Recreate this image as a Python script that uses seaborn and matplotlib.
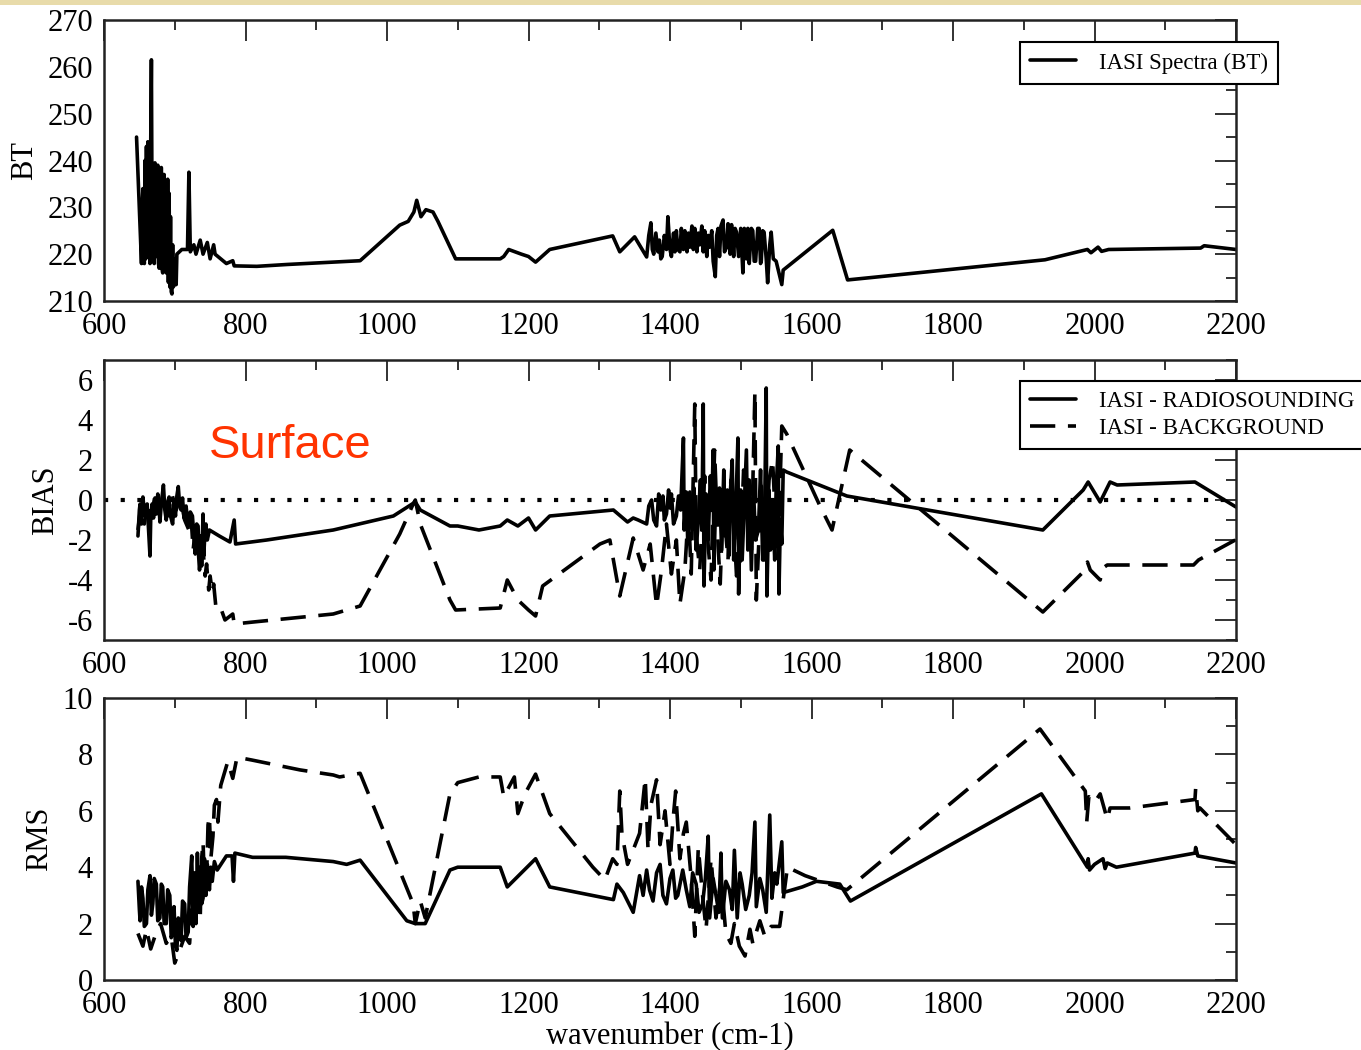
import matplotlib
matplotlib.use('Agg')
import matplotlib.pyplot as plt
import seaborn as sns
from matplotlib.ticker import MultipleLocator
from matplotlib.patches import Rectangle

# --- BT spectrum (top panel) ---
bt_wn = [646, 653, 654, 655, 656, 657, 658, 659, 660, 661,
         662, 663, 664, 665, 666, 667, 668, 669, 670, 671,
         672, 673, 674, 675, 676, 677, 678, 679, 680, 681,
         682, 683, 684, 685, 686, 687, 688, 689, 690, 691,
         692, 693, 694, 695, 696, 697, 698, 700, 701, 702,
         703, 710, 718, 720, 722, 727, 730, 736, 740, 746,
         750, 755, 757, 773, 782, 784, 816, 859, 962, 1018,
         1030, 1038, 1042, 1048, 1055, 1065, 1072, 1097, 1160, 1165,
         1172, 1190, 1200, 1210, 1230, 1273, 1319, 1329, 1350, 1367,
         1370, 1373, 1375, 1377, 1380, 1383, 1385, 1387, 1389, 1392,
         1395, 1397, 1400, 1402, 1405, 1407, 1409, 1411, 1414, 1416,
         1419, 1421, 1424, 1426, 1428, 1431, 1433, 1435, 1438, 1440,
         1442, 1445, 1447, 1449, 1452, 1454, 1456, 1459, 1461, 1464,
         1466, 1468, 1470, 1472, 1475, 1477, 1480, 1482, 1485, 1487,
         1490, 1492, 1494, 1497, 1500, 1503, 1505, 1508, 1510, 1512,
         1515, 1517, 1519, 1521, 1524, 1526, 1528, 1529, 1531, 1533,
         1536, 1538, 1541, 1543, 1546, 1550, 1554, 1558, 1560, 1630,
         1651, 1697, 1930, 1990, 1995, 2005, 2010, 2020, 2150, 2155,
         2200]
bt = [245, 218, 230, 234, 220, 218, 240, 219, 243, 221,
      244, 226, 236, 218, 243, 261.5, 225, 222, 238, 218,
      239.5, 221, 219.5, 238, 239, 218, 217, 238, 220, 238.5,
      217, 216, 237, 237, 217, 235, 216, 216, 236, 214,
      233, 213, 228, 212, 211.5, 222, 213, 214, 219, 213.5,
      220, 221, 221, 237.5, 220.5, 222, 220, 223, 220, 222.5,
      219, 222, 220, 218, 218.6, 217.5, 217.4, 217.8, 218.6, 226.2,
      227, 229, 231.5, 228, 229.5, 229, 227, 219, 219, 219.5,
      221, 220, 219.5, 218.3, 221, 222.4, 223.9, 220.5, 223.7, 219.4,
      224, 226.7, 221, 220, 224.5, 220.5, 223, 219, 219.5, 224,
      221, 228, 221, 219.5, 224.5, 220.5, 225, 221, 220.5, 225.5,
      221, 225, 220.5, 224.5, 221.5, 226, 221, 225.5, 220.5, 224.5,
      222, 226, 220.5, 225, 219.5, 224, 221.5, 225, 218.5, 215.2,
      224, 225.5, 219.5, 226, 227.3, 220.5, 221.5, 226.5, 220, 226.3,
      219.5, 225.5, 224.7, 219.5, 225.5, 216, 225.5, 219, 225.5, 218,
      225.5, 225, 218.5, 218.5, 225.5, 225.5, 218, 218.5, 225, 224.7,
      219, 213.9, 222, 224.7, 219, 218.5, 216, 213.5, 216.6, 225.1,
      214.5, 215.2, 218.8, 221, 220.3, 221.5, 220.6, 221, 221.3, 221.8,
      221]

# --- BIAS (middle panel) ---
bias_rs_wn = [648, 650, 651, 653, 655, 657, 659, 661, 663, 665,
              666, 668, 670, 672, 674, 676, 678, 679, 681, 684,
              686, 688, 690, 692, 694, 697, 699, 701, 703, 705,
              707, 709, 711, 713, 716, 718, 720, 722, 725, 727,
              729, 731, 733, 734, 736, 737, 738, 740, 741, 742,
              744, 746, 749, 763, 778, 784, 786, 830, 924, 1009,
              1040, 1047, 1089, 1100, 1130, 1160, 1170, 1185, 1200, 1210,
              1230, 1320, 1340, 1348, 1355, 1367, 1370, 1374, 1377, 1381,
              1384, 1387, 1390, 1392, 1395, 1398, 1400, 1402, 1405, 1409,
              1412, 1415, 1419, 1420, 1423, 1425, 1428, 1431, 1434, 1437,
              1440, 1443, 1445, 1447, 1448, 1451, 1454, 1457, 1459, 1461,
              1462, 1465, 1468, 1470, 1473, 1476, 1478, 1481, 1483, 1485,
              1488, 1490, 1493, 1496, 1497, 1500, 1502, 1505, 1508, 1510,
              1512, 1515, 1518, 1521, 1525, 1528, 1531, 1534, 1536, 1537,
              1540, 1542, 1545, 1548, 1550, 1553, 1554, 1556, 1558, 1560,
              1565, 1650, 1927, 1984, 1991, 2008, 2022, 2032, 2142, 2200]
bias_rs = [-1.8, -0.5, -0.2, -1.2, 0.15, -0.6, -0.85, -0.2, -1.5, -2.8,
           -1.0, -0.2, -0.9, 0.1, -0.7, 0.3, -0.4, -1.1, -0.2, 0.75,
           -0.5, -1.0, -0.1, 0.15, -0.8, -1.2, -0.1, -0.8, 0.2, 0.67,
           -0.3, -0.5, 0.1, -0.9, -0.3, -1.0, -1.3, -0.6, -0.8, -1.8,
           -2.7, -1.2, -1.3, -2.5, -3.0, -1.8, -3.3, -0.7, -2.8, -2.1,
           -1.2, -2.0, -1.5, -1.8, -2.1, -1.0, -2.2, -2.0, -1.5, -0.8,
           -0.1, -0.5, -1.3, -1.3, -1.5, -1.3, -1.0, -1.3, -0.9, -1.5,
           -0.8, -0.5, -1.1, -0.9, -1.0, -1.2, -0.3, 0.0, -1.0, -1.3,
           0.3, -0.5, 0.2, -1.0, -0.7, 0.5, -0.4, 0.3, -1.2, -0.8,
           0.2, -0.5, 3.1, -1.5, 0.4, -2.0, 0.4, -1.5, 0.6, -2.5,
           -1.0, 1.0, -1.5, 4.8, -4.3, 0.3, -2.0, 1.2, -0.5, 2.5,
           -3.5, 0.6, -1.0, 0.6, -2.5, 1.5, -1.8, 0.5, -2.8, 0.2,
           2.0, -3.0, -0.5, 3.1, -4.7, 0.5, -3.0, -0.2, 2.5, -2.5,
           1.0, -3.5, 0.5, -2.0, -1.5, 1.5, -3.0, 0.0, 5.6, -4.8,
           0.5, -2.5, 0.0, -3.0, 0.5, 2.7, -4.7, -1.0, -2.2, 1.5,
           1.4, 0.2, -1.5, 0.5, 0.9, -0.1, 0.9, 0.75, 0.9, -0.35]

bias_bg_wn = [648, 652, 657, 662, 667, 672, 678, 684, 690, 696,
              702, 708, 714, 720, 723, 726, 729, 732, 735, 738,
              740, 743, 745, 748, 750, 753, 755, 758, 762, 766,
              771, 782, 784, 811, 924, 962, 1018, 1037, 1040, 1047,
              1089, 1097, 1160, 1170, 1185, 1200, 1210, 1220, 1301, 1315,
              1329, 1348, 1362, 1372, 1381, 1388, 1395, 1402, 1409, 1414,
              1421, 1426, 1430, 1435, 1437, 1442, 1449, 1454, 1458, 1463,
              1468, 1471, 1475, 1482, 1486, 1489, 1494, 1499, 1504, 1510,
              1515, 1520, 1522, 1529, 1533, 1536, 1540, 1545, 1549, 1553,
              1558, 1565, 1612, 1629, 1654, 1927, 1984, 1990, 1994, 2008,
              2012, 2018, 2140, 2147, 2199]
bias_bg = [-1.5, -0.3, -1.2, 0.0, -0.8, 0.2, -0.6, 0.4, -0.8, 0.3,
           -0.5, 0.2, -1.0, -1.5, -0.8, -2.5, -1.5, -1.8, -3.5, -2.2,
           -2.5, -3.8, -3.2, -4.5, -3.8, -4.6, -4.2, -5.3, -5.2, -5.5,
           -6.0, -5.7, -6.2, -6.1, -5.7, -5.3, -1.7, -0.2, 0.0, -1.2,
           -5.0, -5.5, -5.4, -4.0, -5.0, -5.5, -5.8, -4.3, -2.2, -2.0,
           -4.8, -1.9, -3.5, -2.2, -5.3, -3.5, -1.2, -3.7, -2.0, -5.2,
           -3.5, -0.5, -3.7, 4.8, -1.7, -3.5, 1.2, -2.3, -4.0, 2.5,
           -2.3, -4.2, 0.0, -3.0, 1.0, -0.2, -3.8, -3.2, 1.5, 0.3,
           -2.5, 5.4, -5.0, 0.7, -3.0, -1.6, 1.0, 2.0, -1.0, -2.4,
           3.7, 3.3, -0.3, -1.5, 2.5, -5.6, -3.6, -3.1, -3.5, -4.0,
           -3.4, -3.25, -3.25, -3.0, -2.0]

# --- RMS (bottom panel) ---
rms_rs_wn = [648, 650, 651, 653, 655, 657, 660, 662, 665, 667,
             669, 671, 674, 676, 679, 681, 683, 685, 688, 690,
             693, 695, 697, 699, 701, 703, 705, 707, 709, 711,
             714, 716, 719, 721, 724, 726, 728, 730, 732, 734,
             736, 738, 740, 742, 744, 746, 749, 751, 753, 756,
             760, 773, 781, 783, 785, 810, 857, 924, 943, 962,
             1028, 1040, 1054, 1089, 1100, 1160, 1170, 1190, 1210, 1230,
             1320, 1325, 1334, 1348, 1357, 1362, 1367, 1371, 1376, 1381,
             1386, 1390, 1395, 1400, 1404, 1408, 1411, 1418, 1423, 1428,
             1432, 1437, 1441, 1446, 1450, 1454, 1456, 1461, 1465, 1469,
             1472, 1474, 1479, 1484, 1488, 1491, 1495, 1499, 1502, 1507,
             1512, 1516, 1520, 1522, 1527, 1531, 1536, 1541, 1544, 1548,
             1551, 1558, 1560, 1587, 1607, 1640, 1655, 1925, 1990, 1991,
             1993, 2000, 2012, 2015, 2018, 2031, 2142, 2143, 2146, 2200]
rms_rs = [3.5, 2.5, 2.1, 3.3, 2.9, 1.9, 2.0, 3.2, 3.7, 2.3,
          2.7, 3.6, 3.4, 2.1, 2.2, 3.4, 3.3, 2.0, 2.0, 3.2,
          3.0, 1.5, 1.7, 2.6, 1.2, 1.05, 2.2, 2.0, 1.4, 2.8,
          2.7, 1.5, 1.7, 3.3, 4.4, 1.9, 3.8, 2.0, 4.5, 2.4,
          4.0, 2.7, 2.9, 4.3, 3.0, 4.1, 3.2, 4.0, 3.5, 4.2,
          3.9, 4.4, 4.4, 3.5, 4.5, 4.35, 4.35, 4.2, 4.1, 4.25,
          2.1, 2.0, 2.0, 3.9, 4.0, 4.0, 3.3, 3.8, 4.3, 3.3,
          2.85, 3.4, 3.1, 2.4, 3.7, 3.0, 3.9, 3.2, 2.8, 3.8,
          4.1, 3.0, 2.7, 3.6, 3.9, 2.9, 3.0, 3.9, 3.2, 2.6,
          3.8, 3.4, 2.4, 2.7, 3.6, 5.1, 2.2, 3.6, 3.0, 2.4,
          4.5, 2.2, 3.5, 3.2, 2.5, 4.6, 2.2, 3.8, 3.4, 2.5,
          3.0, 3.8, 5.6, 2.6, 3.6, 3.2, 2.4, 5.85, 2.9, 3.8,
          3.4, 4.9, 3.1, 3.3, 3.5, 3.4, 2.8, 6.6, 4.0, 4.3,
          3.9, 4.1, 4.3, 3.95, 4.15, 4.0, 4.5, 4.7, 4.4, 4.15]

rms_bg_wn = [648, 655, 660, 666, 674, 680, 688, 695, 700, 707,
             714, 721, 724, 726, 728, 731, 733, 736, 738, 740,
             742, 745, 747, 749, 751, 754, 756, 759, 761, 765,
             775, 782, 788, 809, 877, 924, 933, 962, 1037, 1040,
             1047, 1054, 1089, 1100, 1130, 1160, 1165, 1180, 1185, 1195,
             1210, 1230, 1291, 1308, 1319, 1325, 1329, 1332, 1340, 1357,
             1365, 1369, 1373, 1381, 1386, 1393, 1400, 1404, 1408, 1414,
             1419, 1423, 1430, 1435, 1440, 1446, 1451, 1458, 1465, 1472,
             1479, 1486, 1491, 1498, 1506, 1513, 1517, 1527, 1534, 1543,
             1555, 1566, 1591, 1636, 1650, 1923, 1987, 1989, 1992, 2000,
             2008, 2018, 2022, 2050, 2142, 2143, 2146, 2149, 2200]
rms_bg = [1.65, 1.2, 1.8, 1.1, 1.7, 2.0, 1.3, 1.55, 0.6, 1.05,
          1.55, 1.3, 2.5, 2.0, 3.5, 3.2, 2.4, 2.2, 4.3, 4.9,
          3.4, 3.6, 5.5, 5.8, 4.3, 5.1, 6.2, 6.4, 5.6, 6.9,
          7.75, 7.15, 7.9, 7.8, 7.45, 7.27, 7.2, 7.33, 2.7, 2.0,
          2.8, 2.2, 6.6, 7.0, 7.2, 7.2, 6.5, 7.2, 5.9, 6.6,
          7.3, 5.9, 4.0, 3.55, 4.3, 4.1, 6.7, 5.2, 4.1, 5.2,
          7.15, 4.6, 6.2, 7.1, 4.8, 6.0, 4.1, 5.6, 6.7, 4.3,
          5.2, 5.6, 3.6, 1.55, 4.7, 3.0, 1.8, 4.3, 2.2, 3.6,
          1.65, 1.3, 2.0, 1.2, 0.85, 1.8, 1.3, 2.1, 1.55, 1.9,
          1.9, 4.0, 3.7, 3.3, 3.2, 8.9, 6.7, 5.6, 6.5, 6.3,
          6.6, 5.7, 6.1, 6.1, 6.4, 6.8, 6.0, 6.1, 4.8]

W, H = 1361, 1050
LW = 2.6
DASH = (0, (7, 3.5))

sns.set_style('white')
plt.rcParams['font.family'] = ['Liberation Serif', 'DejaVu Serif']
plt.rcParams['axes.unicode_minus'] = False
plt.rcParams['text.color'] = 'black'
plt.rcParams['axes.labelcolor'] = 'black'
plt.rcParams['xtick.color'] = 'black'
plt.rcParams['ytick.color'] = 'black'


def frac_axes(left, top, right, bottom):
    return [left / W, 1 - bottom / H, (right - left) / W, (bottom - top) / H]


def style_axes(ax, ylim, ymajor, yminor, ylabel, label_x):
    ax.set_xlim(600, 2200)
    ax.set_ylim(*ylim)
    ax.xaxis.set_major_locator(MultipleLocator(200))
    ax.xaxis.set_minor_locator(MultipleLocator(100))
    ax.yaxis.set_major_locator(MultipleLocator(ymajor))
    ax.yaxis.set_minor_locator(MultipleLocator(yminor))
    ax.tick_params(which='both', direction='in', top=True, right=True,
                   width=1.3, colors='#222222', labelcolor='black', labelsize=22, pad=8)
    ax.tick_params(which='major', length=15)
    ax.tick_params(which='minor', length=7.5)
    for s in ax.spines.values():
        s.set_linewidth(1.8)
        s.set_color('#222222')
    ax.set_xlabel('')
    ax.set_ylabel(ylabel, fontsize=22, color='black')
    ax.yaxis.label.set_verticalalignment('center')
    ax.yaxis.set_label_coords(label_x, 0.5)


fig = plt.figure(figsize=(W / 100, H / 100), dpi=100)
fig.patches.append(Rectangle((0, 1 - 5 / H), 1, 5 / H, transform=fig.transFigure,
                             facecolor='#E8DBAA', edgecolor='none', zorder=0))

ax1 = fig.add_axes(frac_axes(104, 20, 1236, 301))
ax2 = fig.add_axes(frac_axes(104, 360, 1236, 640))
ax3 = fig.add_axes(frac_axes(104, 698, 1236, 980))

# top: BT spectrum
sns.lineplot(x=bt_wn, y=bt, ax=ax1, color='black', lw=LW, sort=False, estimator=None,
             label='IASI Spectra (BT)')
style_axes(ax1, (210, 270), 10, 5, 'BT', -0.070)

# middle: BIAS
ax2.axhline(0, color='black', lw=3, linestyle=(0, (1, 3)), zorder=1)
sns.lineplot(x=bias_rs_wn, y=bias_rs, ax=ax2, color='black', lw=LW, sort=False, estimator=None,
             label='IASI - RADIOSOUNDING')
sns.lineplot(x=bias_bg_wn, y=bias_bg, ax=ax2, color='black', lw=LW, linestyle=DASH, sort=False,
             estimator=None, label='IASI - BACKGROUND')
style_axes(ax2, (-7, 7), 2, 1, 'BIAS', -0.052)

# bottom: RMS
sns.lineplot(x=rms_rs_wn, y=rms_rs, ax=ax3, color='black', lw=LW, sort=False, estimator=None)
sns.lineplot(x=rms_bg_wn, y=rms_bg, ax=ax3, color='black', lw=LW, linestyle=DASH, sort=False,
             estimator=None)
style_axes(ax3, (0, 10), 2, 1, 'RMS', -0.0565)
ax3.set_xlabel('wavenumber (cm-1)', fontsize=22, color='black')
ax3.xaxis.set_label_coords(0.5, -0.15)

leg_kw = dict(loc='upper left', bbox_transform=fig.transFigure, borderaxespad=0,
              fontsize=16.5, frameon=True, fancybox=False, shadow=False, framealpha=1,
              edgecolor='black', handlelength=2.0, handletextpad=1.0,
              borderpad=0.45, labelspacing=0.25)
leg1 = ax1.legend(bbox_to_anchor=(1020 / W, 1 - 42 / H), **leg_kw)
leg1.get_frame().set_linewidth(1.5)
leg2 = ax2.legend(bbox_to_anchor=(1020 / W, 1 - 381 / H), **leg_kw)
leg2.get_frame().set_linewidth(1.5)
for leg in (leg1, leg2):
    leg.set_zorder(5)
    for t in leg.get_texts():
        t.set_color('black')

fig.text(290 / W, 1 - 446 / H, 'Surface', color='#FF3300', fontsize=34,
         family=['Liberation Sans', 'DejaVu Sans'], ha='center', va='center')

fig.savefig('out.png', dpi=100)
